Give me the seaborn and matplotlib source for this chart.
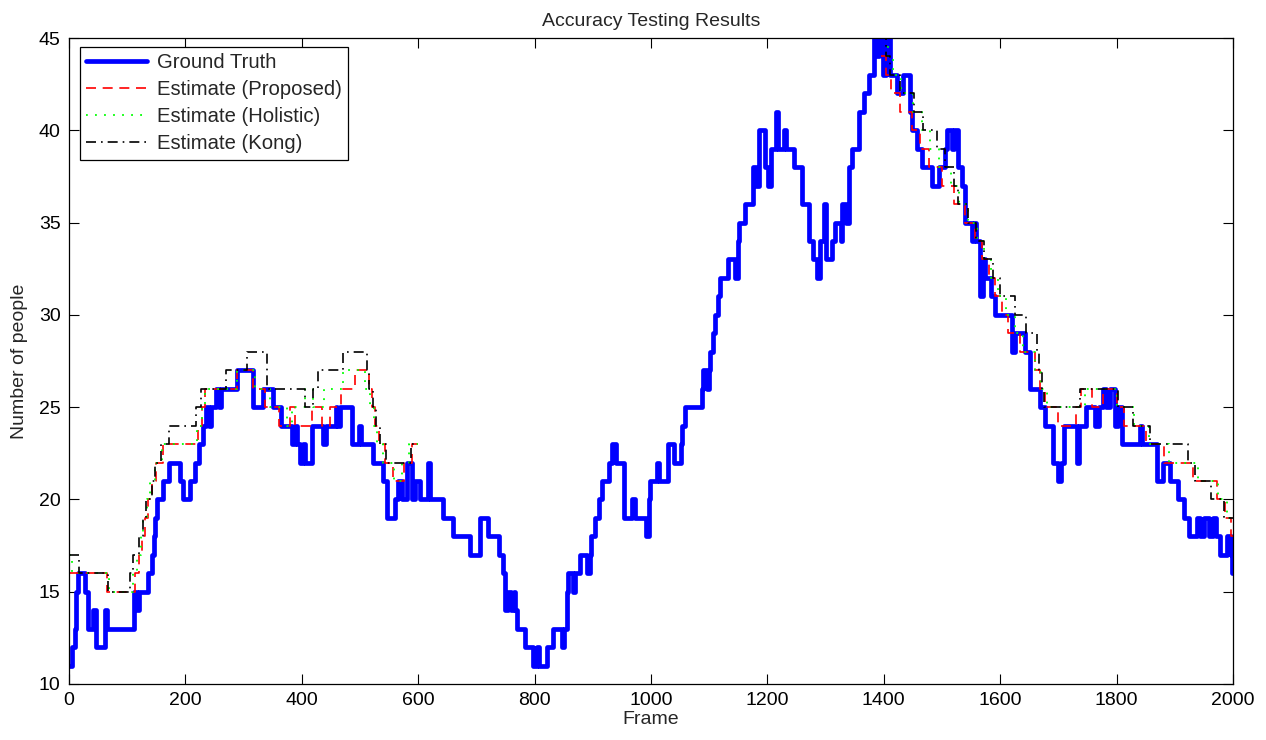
import numpy as np
import pandas as pd
import matplotlib
matplotlib.use("Agg")
import matplotlib.pyplot as plt
import seaborn as sns

# ---------------- data (step breakpoints: frame -> value) ----------------
gt_frames = [0, 5, 10, 12, 15, 28, 33, 41, 46, 62, 65, 112, 116, 120, 136, 143, 146, 148, 151, 162,
             171, 191, 196, 208, 216, 223, 231, 236, 240, 244, 252, 258, 262, 288, 317, 334, 351, 365,
             383, 388, 392, 397, 402, 406, 417, 437, 441, 458, 461, 466, 486, 498, 501, 523, 540, 546,
             560, 566, 572, 580, 589, 595, 603, 617, 620, 643, 660, 689, 706, 720, 738, 746, 750, 754,
             760, 764, 767, 769, 784, 798, 804, 807, 821, 832, 847, 851, 855, 858, 866, 869, 878, 890,
             895, 897, 904, 910, 916, 927, 933, 940, 953, 967, 972, 991, 996, 998, 1010, 1014, 1030,
             1039, 1052, 1054, 1058, 1087, 1090, 1096, 1099, 1101, 1106, 1110, 1115, 1119, 1133, 1145,
             1149, 1152, 1161, 1175, 1181, 1186, 1196, 1201, 1207, 1215, 1219, 1228, 1232, 1245, 1260,
             1272, 1279, 1285, 1290, 1297, 1300, 1311, 1317, 1326, 1329, 1335, 1340, 1345, 1357, 1366,
             1375, 1383, 1386, 1392, 1398, 1404, 1410, 1422, 1433, 1445, 1448, 1457, 1466, 1483, 1494,
             1506, 1508, 1517, 1521, 1528, 1534, 1540, 1551, 1555, 1558, 1565, 1570, 1574, 1585, 1591,
             1620, 1626, 1643, 1651, 1669, 1677, 1691, 1700, 1704, 1709, 1732, 1735, 1748, 1763, 1769,
             1776, 1782, 1788, 1797, 1803, 1809, 1840, 1843, 1869, 1880, 1892, 1906, 1915, 1924, 1938,
             1944, 1950, 1959, 1965, 1971, 1977, 1989, 1996, 1999, 2000]
gt_values = [11, 12, 13, 15, 16, 15, 13, 14, 12, 14, 13, 15, 14, 15, 16, 17, 18, 19, 20, 21,
             22, 21, 20, 21, 22, 23, 24, 25, 24, 25, 26, 25, 26, 27, 25, 26, 25, 24,
             23, 24, 23, 22, 23, 22, 24, 23, 24, 25, 24, 25, 23, 24, 23, 22, 21, 19,
             20, 21, 20, 22, 20, 21, 20, 22, 20, 19, 18, 17, 19, 18, 17, 16, 14, 15,
             14, 15, 14, 13, 12, 11, 12, 11, 12, 13, 12, 13, 15, 16, 15, 16, 17, 16,
             17, 18, 19, 20, 21, 22, 23, 22, 19, 20, 19, 18, 20, 21, 22, 21, 23,
             22, 23, 24, 25, 26, 27, 26, 27, 28, 29, 30, 31, 32, 33, 32,
             34, 35, 36, 38, 37, 40, 38, 37, 39, 41, 39, 40, 39, 38, 36,
             34, 33, 32, 34, 36, 33, 34, 35, 34, 36, 35, 38, 39, 41, 42,
             43, 45, 44, 45, 43, 45, 43, 42, 43, 41, 40, 39, 38, 37, 38,
             39, 40, 39, 40, 38, 37, 35, 34, 35, 34, 31, 33, 32, 31, 30,
             28, 29, 28, 26, 25, 24, 22, 21, 22, 24, 22, 24, 25, 24, 25,
             26, 25, 26, 24, 25, 23, 24, 23, 21, 22, 21, 20, 19, 18, 19,
             18, 19, 18, 19, 18, 17, 18, 17, 16, 16]

# Estimates: two segments each (start of sequence and end of sequence)
prop_frames_a = [0, 65, 113, 120, 125, 130, 136, 143, 150, 162, 222, 229, 234, 288, 317, 337, 360,
                 380, 388, 417, 434, 448, 468, 491, 515, 520, 526, 532, 543, 557, 575, 590, 600]
prop_values_a = [16, 15, 16, 17, 18, 19, 20, 21, 22, 23, 24, 25, 26, 27, 26, 25, 24,
                 25, 24, 25, 24, 25, 26, 27, 26, 25, 24, 23, 22, 21, 22, 23, 23]
prop_frames_b = [1395, 1403, 1413, 1427, 1448, 1462, 1478, 1500, 1520, 1539, 1557, 1568, 1580, 1591,
                 1603, 1614, 1634, 1660, 1668, 1677, 1700, 1731, 1739, 1758, 1777, 1800, 1813, 1850,
                 1881, 1932, 1972, 1986, 1996, 2000]
prop_values_b = [44, 43, 42, 41, 40, 39, 38, 37, 36, 35, 34, 33, 32, 31,
                 30, 29, 28, 27, 26, 25, 24, 25, 26, 25, 26, 25, 24, 23,
                 22, 21, 20, 19, 18, 18]

hol_frames_a = [0, 5, 68, 110, 117, 123, 128, 134, 140, 147, 160, 220, 228, 233, 288, 320, 345, 375,
                383, 405, 420, 438, 470, 508, 518, 524, 530, 540, 558, 572, 585, 600]
hol_values_a = [17, 16, 15, 16, 17, 18, 19, 20, 21, 22, 23, 24, 25, 26, 27, 26, 25, 24,
                25, 26, 25, 26, 27, 26, 25, 24, 23, 22, 21, 22, 23, 23]
hol_frames_b = [1390, 1408, 1415, 1430, 1450, 1465, 1480, 1495, 1515, 1530, 1545, 1560, 1572, 1585,
                1597, 1610, 1625, 1640, 1660, 1670, 1680, 1745, 1800, 1830, 1855, 1890, 1940, 1975,
                1990, 2000]
hol_values_b = [45, 44, 43, 42, 41, 40, 39, 38, 37, 36, 35, 34, 33, 32,
                31, 30, 29, 28, 27, 26, 25, 26, 25, 24, 23, 22, 21, 20,
                19, 19]

kong_frames_a = [0, 17, 67, 105, 110, 120, 127, 133, 142, 148, 158, 171, 219, 226, 270, 305, 340,
                 406, 420, 428, 471, 512, 515, 522, 528, 535, 545, 588, 600]
kong_values_a = [17, 16, 15, 16, 17, 18, 19, 20, 21, 22, 23, 24, 25, 26, 27, 28, 26,
                 25, 26, 27, 28, 27, 26, 25, 24, 23, 22, 23, 23]
kong_frames_b = [1390, 1403, 1410, 1427, 1452, 1468, 1491, 1506, 1520, 1528, 1545, 1558, 1573, 1587,
                 1600, 1625, 1645, 1663, 1667, 1672, 1676, 1737, 1803, 1829, 1858, 1922, 1935, 1962,
                 1984, 2000]
kong_values_b = [45, 44, 43, 42, 41, 40, 39, 38, 37, 36, 35, 34, 33, 32,
                 31, 30, 29, 28, 27, 26, 25, 26, 25, 24, 23, 22, 21, 20,
                 19, 19]

x_ticks = [0, 200, 400, 600, 800, 1000, 1200, 1400, 1600, 1800, 2000]
y_ticks = [10, 15, 20, 25, 30, 35, 40, 45]

# ---------------- style ----------------
sns.set_style("ticks")
plt.rcParams['font.family'] = ['Liberation Sans', 'DejaVu Sans']
plt.rcParams['xtick.direction'] = 'in'
plt.rcParams['ytick.direction'] = 'in'

FS = 14

fig = plt.figure(figsize=(12.66, 7.40), dpi=100)
ax = fig.add_axes([69 / 1266, 1 - 684 / 740, (1233 - 69) / 1266, (684 - 38) / 740])

def seg_df(fr, va):
    return pd.DataFrame({"frame": fr, "value": va})

gt_df = seg_df(gt_frames, gt_values)
sns.lineplot(data=gt_df, x="frame", y="value", ax=ax, estimator=None, sort=False,
             drawstyle="steps-post", color=(0, 0, 1), lw=3.4, label="Ground Truth")

styles = [
    ("Estimate (Proposed)", (1, 0, 0), (0, (6, 4)), 1.2,
     [(prop_frames_a, prop_values_a), (prop_frames_b, prop_values_b)]),
    ("Estimate (Holistic)", (0, 1, 0), (0, (1, 4)), 1.3,
     [(hol_frames_a, hol_values_a), (hol_frames_b, hol_values_b)]),
    ("Estimate (Kong)", (0, 0, 0), (0, (6, 3, 1, 3)), 1.2,
     [(kong_frames_a, kong_values_a), (kong_frames_b, kong_values_b)]),
]
for label, col, ls, lw, segs in styles:
    for i, (fr, va) in enumerate(segs):
        sns.lineplot(data=seg_df(fr, va), x="frame", y="value", ax=ax, estimator=None, sort=False,
                     drawstyle="steps-post", color=col, lw=lw, linestyle=ls,
                     label=label if i == 0 else None)

ax.set_xlim(0, 2000)
ax.set_ylim(10, 45)
ax.set_xticks(x_ticks)
ax.set_yticks(y_ticks)
ax.tick_params(axis='both', which='both', direction='in', top=True, right=True,
               length=7, width=0.8, labelsize=FS, colors='black', pad=6)
for s in ax.spines.values():
    s.set_visible(True)
    s.set_linewidth(0.9)
    s.set_color('black')

ax.set_title("Accuracy Testing Results", fontsize=FS, pad=9)
ax.set_xlabel("Frame", fontsize=FS, labelpad=1)
ax.set_ylabel("Number of people", fontsize=FS, labelpad=8)

leg = ax.legend(loc="upper left", fontsize=14.6, frameon=True, fancybox=False,
                edgecolor='black', framealpha=1, borderpad=0.3, labelspacing=0.4,
                handlelength=3.0, handletextpad=0.5, borderaxespad=0,
                bbox_to_anchor=(0.0095, 0.986))
leg.get_frame().set_linewidth(0.9)

fig.savefig("out.png", dpi=100)
